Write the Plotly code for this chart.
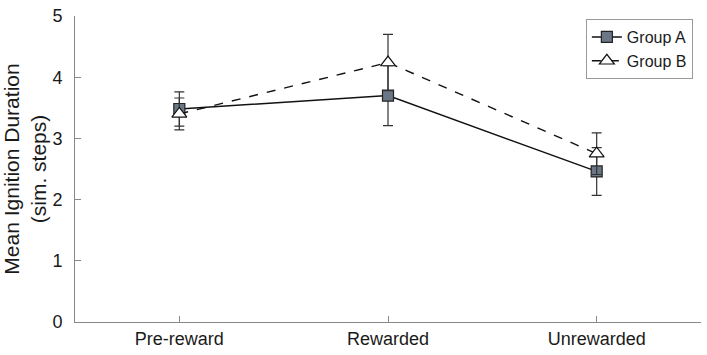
import plotly.graph_objects as go

categories = ["Pre-reward", "Rewarded", "Unrewarded"]
group_a = [3.48, 3.70, 2.46]
group_a_err = [0.28, 0.49, 0.39]
group_b = [3.40, 4.24, 2.75]
group_b_err = [0.26, 0.46, 0.34]
y_ticks = [0, 1, 2, 3, 4, 5]

xpos = [1, 2, 3]
FONT = "Liberation Sans, Arial, Helvetica, sans-serif"

fig = go.Figure()
fig.add_trace(go.Scatter(
    x=xpos, y=group_a, name="Group A", mode="lines+markers",
    line=dict(color="#111111", width=1.4),
    marker=dict(symbol="square", size=11, color="#6b7786",
                line=dict(color="#222222", width=1.2)),
    error_y=dict(type="data", array=group_a_err, visible=True,
                 color="#333333", thickness=1.2, width=5),
))
fig.add_trace(go.Scatter(
    x=xpos, y=group_b, name="Group B", mode="lines+markers",
    line=dict(color="#111111", width=1.4, dash="dash"),
    marker=dict(symbol="triangle-up", size=13, color="white",
                line=dict(color="#111111", width=1.2)),
    error_y=dict(type="data", array=group_b_err, visible=True,
                 color="#333333", thickness=1.2, width=5),
))

fig.update_layout(
    width=707, height=355,
    margin=dict(l=71, r=6, t=14, b=32),
    paper_bgcolor="white", plot_bgcolor="white",
    font=dict(family=FONT, size=18, color="#1a1a1a"),
    showlegend=True,
    legend=dict(x=0.987, y=0.99, xanchor="right", yanchor="top",
                bgcolor="white", bordercolor="#999999", borderwidth=1,
                font=dict(size=16), tracegroupgap=0,
                itemwidth=30),
    xaxis=dict(range=[0.5, 3.5], tickmode="array", tickvals=xpos,
               ticktext=categories, ticks="inside", ticklen=6,
               tickcolor="#888888", showline=True, linecolor="#888888",
               linewidth=1, showgrid=False, zeroline=False,
               mirror=False),
    yaxis=dict(range=[0, 5], tickmode="array", tickvals=y_ticks,
               ticks="inside", ticklen=6, tickcolor="#888888",
               showline=True, linecolor="#888888", linewidth=1,
               showgrid=False, zeroline=False, ticklabelstandoff=8,
               title=dict(text="Mean Ignition Duration<br>(sim. steps)",
                          font=dict(size=21), standoff=4)),
)

fig.write_html("out.html")
